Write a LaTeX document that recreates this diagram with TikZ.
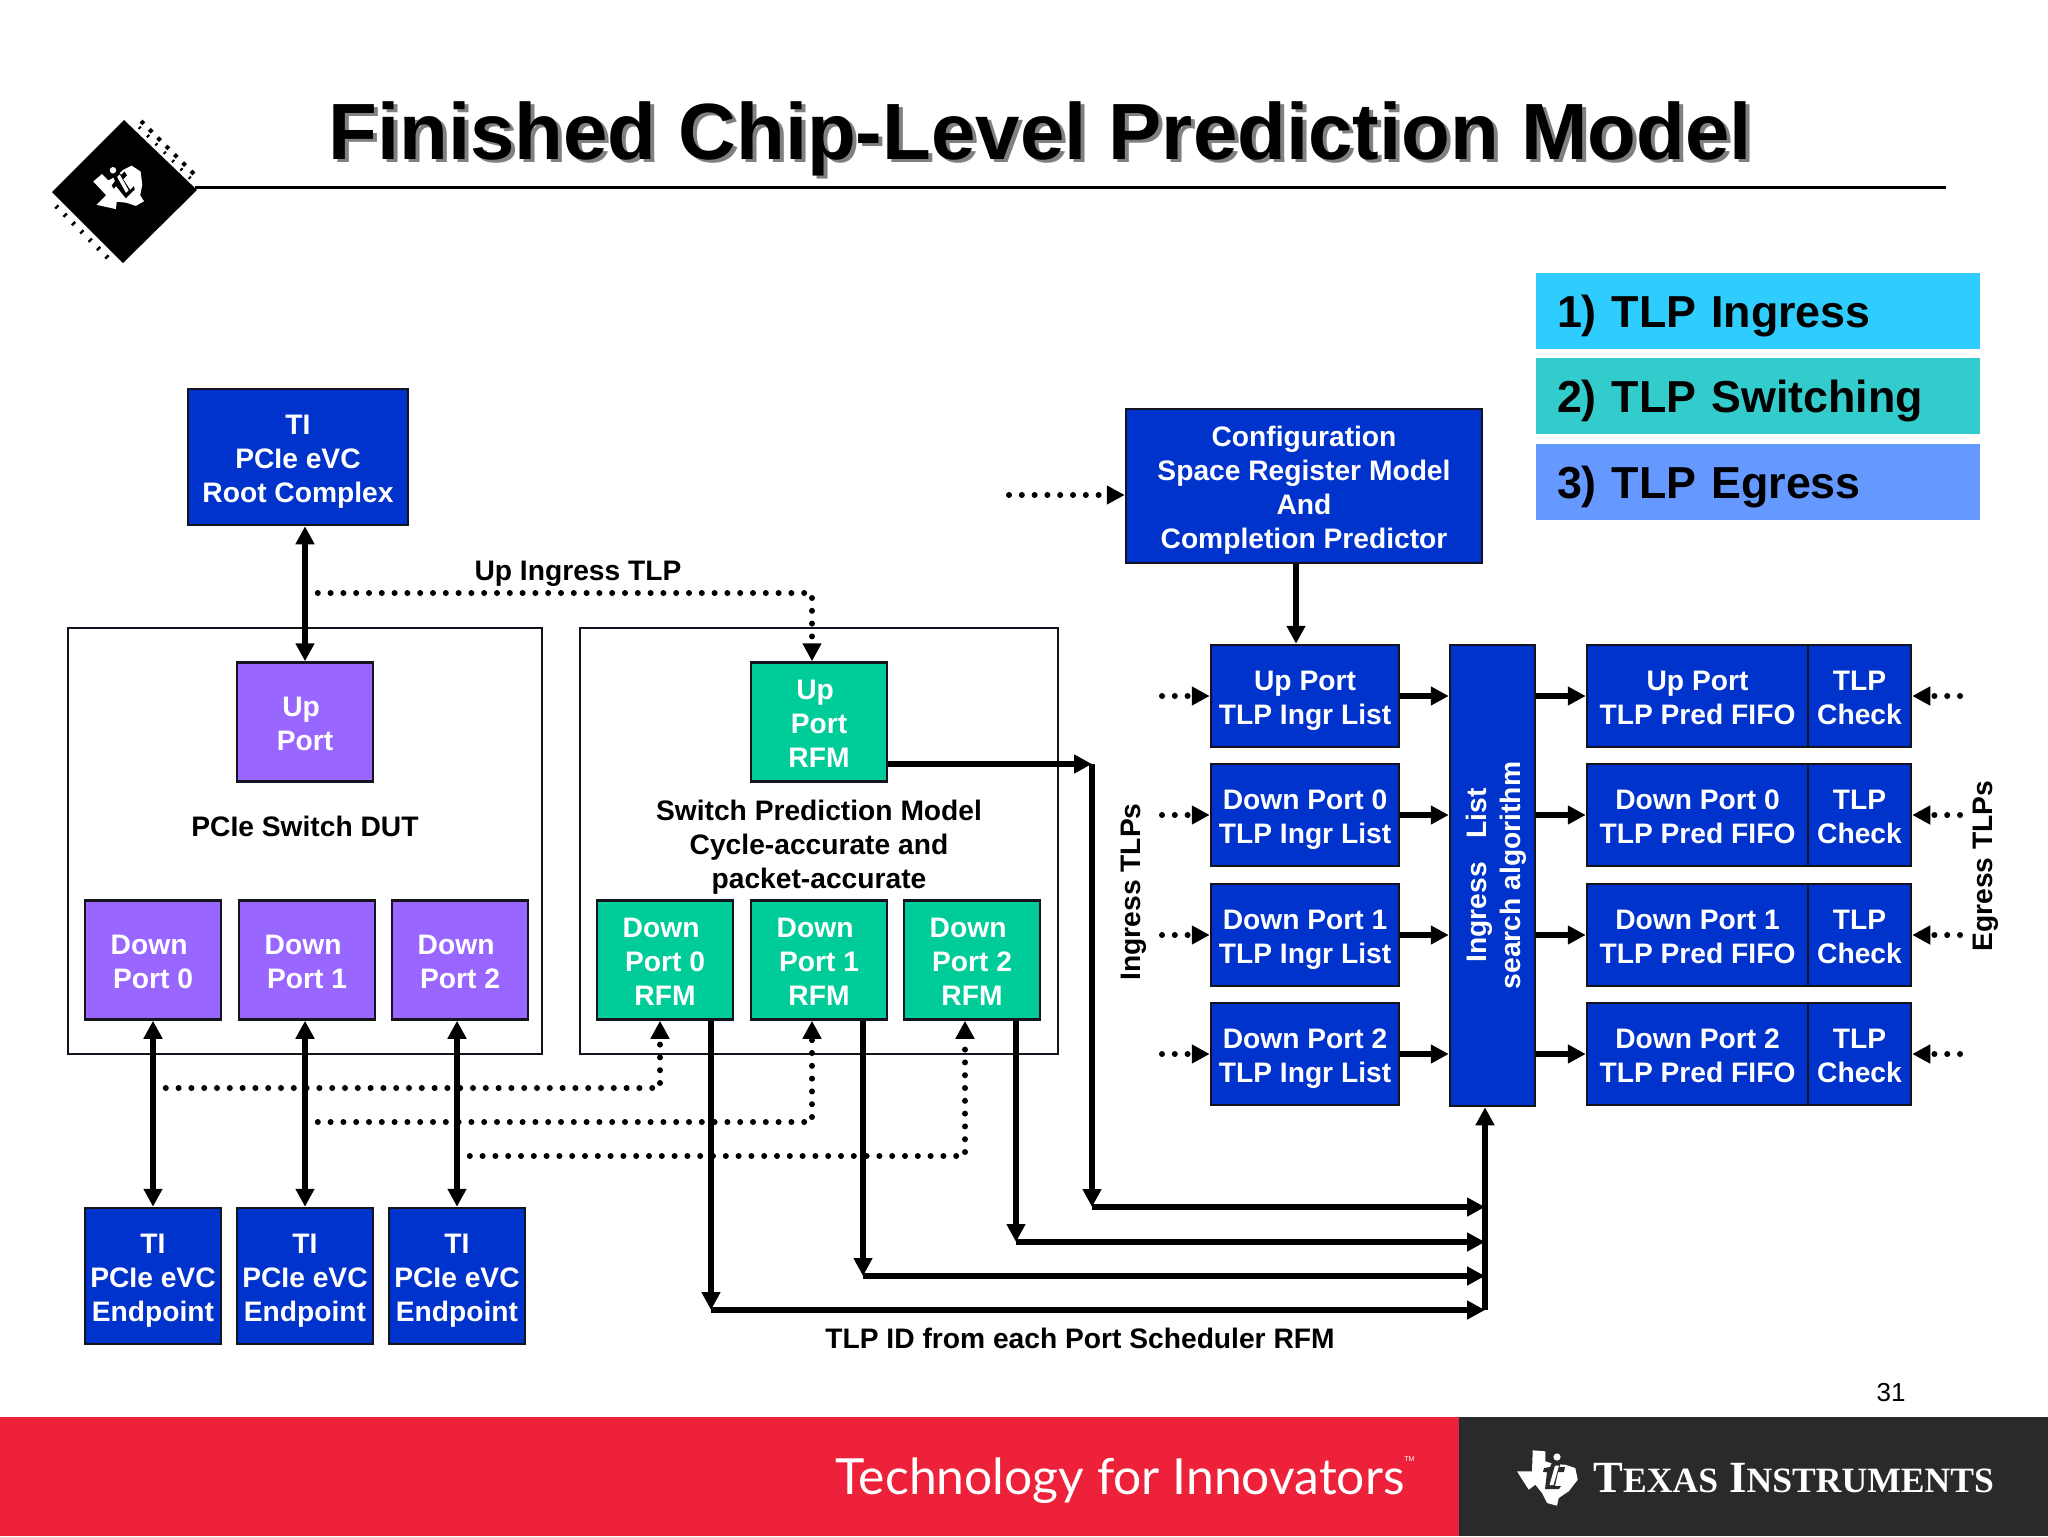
\documentclass[tikz,border=0pt]{standalone}
\usepackage{fontspec}
\setmainfont{Liberation Sans}
\newfontfamily\footfont{Lato}
\newfontfamily\brandfont{Liberation Serif}
\usepackage{tikz}
\usetikzlibrary{arrows.meta}
\definecolor{boxblue}{HTML}{0033CC}
\definecolor{boxpurple}{HTML}{9966FF}
\definecolor{boxgreen}{HTML}{00CC99}
\definecolor{edgedark}{HTML}{14141E}
\definecolor{bandred}{HTML}{ED2139}
\definecolor{banddark}{HTML}{2A2A2C}
\tikzset{
  cellbox/.style={rectangle,draw=edgedark,line width=1.25pt,inner sep=0pt,align=center,
    text=white,font=\fontsize{14.1}{17}\selectfont\bfseries,
    execute at end node={\rule[-4pt]{0pt}{1pt}}},
  solidlink/.style={line width=2.6pt,-{Triangle[length=9pt,width=9pt]}},
  bothlink/.style={line width=2.6pt,{Triangle[length=9pt,width=9pt]}-{Triangle[length=9pt,width=9pt]}},
  dotlink/.style={line width=3pt,line cap=round,dash pattern=on 0pt off 6.4pt,-{Triangle[length=9pt,width=9pt]}},
  thinlabel/.style={align=center,inner sep=0pt,font=\fontsize{14.1}{17}\selectfont\bfseries},
  legendbox/.style={rectangle,inner sep=0pt,minimum width=222pt,minimum height=38pt,
    text width=201pt,align=left,font=\fontsize{22.4}{26}\selectfont\bfseries,
    execute at begin node={\rule{0pt}{21pt}}},
}
\newcommand{\bluenode}[2]{\node[cellbox,fill=boxblue,minimum width=#1,minimum height=#2]}
\newcommand{\purplenode}{\node[cellbox,fill=boxpurple,minimum width=68pt,minimum height=59.5pt]}
\newcommand{\greennode}{\node[cellbox,fill=boxgreen,minimum width=68pt,minimum height=59.5pt]}
\newcommand{\textnode}{\node[thinlabel]}
\newcommand{\trail}{\kern3.9pt}
\newcommand{\topl}{\rule{0pt}{15.2pt}}
% texas outline with ti on it: x, y, unit, rotation, ti colour
\newcommand{\texaslogo}[5]{%
  \begin{scope}[shift={(#1,#2)},x=#3,y=-#3,rotate=#4]
    \fill[white] (-14.3,-27.7) -- (-1.7,-26.7) -- (-1.7,-16.7) -- (6.7,-14) -- (18.3,-13.3) -- (28.3,-10)
      -- (30.7,1.7) -- (21.7,13.3) -- (11.7,20) -- (10,27.7) -- (0,25) -- (-5,15) -- (-11.7,6.7)
      -- (-18.3,11.7) -- (-30,-6.7) -- (-15,-6.7) -- cycle;
    \fill[#5] (5.5,-16.5) -- (14,-16.5) -- (12.5,-11) -- (18,-11) -- (17,-6) -- (11,-6) -- (8,8) -- (14,8)
      -- (12,11) -- (-2,11) -- (0,-6) -- (-4,-6) -- (-3,-10) -- (3,-11) -- cycle;
    \fill[white] (8,-12.5) -- (12,-12.5) -- (6.5,7) -- (2.5,7) -- cycle;
    \fill[white] (10,-21) circle (3.6);
  \end{scope}}
\begin{document}
\begin{tikzpicture}[x=0.5pt,y=-0.5pt]
      \useasboundingbox (0,0) rectangle (2048,1536);
      % footer band
      \fill[bandred] (0,1417) rectangle (1459,1536);
      \fill[banddark] (1459,1417) rectangle (2048,1536);
      \node[inner sep=0pt,text=white,font=\footfont\fontsize{24.9}{26}\selectfont] (tagline) at (1120,1481) {Technology for Innovators};
      \node[inner sep=0pt,text=white,font=\fontsize{3.5}{4}\selectfont,anchor=south west] (tmark) at (1404,1462) {TM};
      \node[inner sep=0pt,text=white,font=\brandfont\bfseries\fontsize{22.3}{26}\selectfont,anchor=west] (brand) at (1593,1478)
        {T{\fontsize{17.8}{20}\selectfont EXAS} I{\fontsize{17.8}{20}\selectfont NSTRUMENTS}};
      \texaslogo{1547}{1478}{0.5pt}{0}{banddark}
      \node[inner sep=0pt,font=\fontsize{13}{15}\selectfont] (pagenum) at (1891,1393) {31};
      % title
      \node[inner sep=0pt,text=black!50,font=\fontsize{39.9}{44}\selectfont\bfseries] (titleshadow) at (1044,142) {Finished Chip-Level Prediction Model};
      \node[inner sep=0pt,font=\fontsize{39.9}{44}\selectfont\bfseries] (title) at (1040,139) {Finished Chip-Level Prediction Model};
      \coordinate (rulestart) at (195,187);
      \coordinate (ruleend) at (1946,187);
      \draw[line width=1.5pt] (rulestart) -- (ruleend);
      % chip
      \fill (52,192) -- (124,120) -- (197,190) -- (123,263) -- cycle;
      \draw[line width=1.6pt,dash pattern=on 1pt off 4.9pt] (139,127) -- (197,185);
      \draw[line width=2pt,dash pattern=on 2pt off 3.9pt] (141,121) -- (199,179);
      \draw[line width=2.4pt,dash pattern=on 1.2pt off 4.7pt] (56,206) -- (114,264);
      \texaslogo{120}{190}{0.45pt}{45}{black}
      % legend
      \node[legendbox,fill={rgb,255:red,47;green,205;blue,253}] (step1) at (1758,311) {1) TLP Ingress};
      \node[legendbox,fill={rgb,255:red,51;green,204;blue,204}] (step2) at (1758,396) {2) TLP Switching};
      \node[legendbox,fill={rgb,255:red,102;green,153;blue,255}] (step3) at (1758,482) {3) TLP Egress};
      % left and right enclosures
      \node[rectangle,draw=edgedark,line width=1pt,minimum width=237pt,minimum height=213pt] (dut) at (305,841) {};
      \node[rectangle,draw=edgedark,line width=1pt,minimum width=239pt,minimum height=213pt] (model) at (819,841) {};
      % root and endpoints
      \bluenode{110pt}{68pt} (root) at (298,457) {\topl TI\\PCIe eVC\\Root Complex};
      \bluenode{68pt}{68pt} (ep0) at (153,1276) {\topl TI\\PCIe eVC\\Endpoint};
      \bluenode{68pt}{68pt} (ep1) at (305,1276) {\topl TI\\PCIe eVC\\Endpoint};
      \bluenode{68pt}{68pt} (ep2) at (457,1276) {\topl TI\\PCIe eVC\\Endpoint};
      % DUT ports
      \purplenode (upp) at (305,722) {\topl Up\trail\\Port};
      \purplenode (dnp0) at (153,960) {\topl Down\trail\\Port 0};
      \purplenode (dnp1) at (307,960) {\topl Down\trail\\Port 1};
      \purplenode (dnp2) at (460,960) {\topl Down\trail\\Port 2};
      \textnode (dutlabel) at (305,826) {PCIe Switch DUT};
      % RFMs
      \greennode (uprfm) at (819,722) {\topl Up\trail\\Port\\RFM};
      \greennode (dnrfm0) at (665,960) {\topl Down\trail\\Port 0\\RFM};
      \greennode (dnrfm1) at (819,960) {\topl Down\trail\\Port 1\\RFM};
      \greennode (dnrfm2) at (972,960) {\topl Down\trail\\Port 2\\RFM};
      \textnode (modellabel) at (819,847) {Switch Prediction Model\\Cycle-accurate and\\packet-accurate};
      % config
      \bluenode{178pt}{77pt} (config) at (1304,486) {\topl Configuration\\Space Register Model\\And\\Completion Predictor};
      % ingress lists
      \bluenode{94pt}{51pt} (ingr0) at (1305,696) {\topl Up Port\\TLP Ingr List};
      \bluenode{94pt}{51pt} (ingr1) at (1305,815) {\topl Down Port 0\\TLP Ingr List};
      \bluenode{94pt}{51pt} (ingr2) at (1305,935) {\topl Down Port 1\\TLP Ingr List};
      \bluenode{94pt}{51pt} (ingr3) at (1305,1054) {\topl Down Port 2\\TLP Ingr List};
      % search
      \node[rectangle,draw=edgedark,line width=1.25pt,fill=boxblue,minimum width=42.5pt,minimum height=230.5pt] (search) at (1492.5,875.5) {};
      \node[rotate=90,align=center,inner sep=0pt,text=white,font=\fontsize{14.1}{17}\selectfont\bfseries] (searchtext) at ([xshift=2pt]search.center) {Ingress~~~List\\search algorithm};
      % pred fifos and checks
      \bluenode{110.5pt}{51pt} (fifo0) at (1697.5,696) {\topl Up Port\\TLP Pred FIFO};
      \bluenode{110.5pt}{51pt} (fifo1) at (1697.5,815) {\topl Down Port 0\\TLP Pred FIFO};
      \bluenode{110.5pt}{51pt} (fifo2) at (1697.5,935) {\topl Down Port 1\\TLP Pred FIFO};
      \bluenode{110.5pt}{51pt} (fifo3) at (1697.5,1054) {\topl Down Port 2\\TLP Pred FIFO};
      \bluenode{51.5pt}{51pt} (chk0) at (1859.5,696) {\topl TLP\\Check};
      \bluenode{51.5pt}{51pt} (chk1) at (1859.5,815) {\topl TLP\\Check};
      \bluenode{51.5pt}{51pt} (chk2) at (1859.5,935) {\topl TLP\\Check};
      \bluenode{51.5pt}{51pt} (chk3) at (1859.5,1054) {\topl TLP\\Check};
      % side labels
      \node[thinlabel,rotate=90] (ingresslabel) at (1134,892) {Ingress TLPs};
      \node[thinlabel,rotate=90] (egresslabel) at (1986,866) {Egress TLPs};
      \textnode (uplabel) at (578,574) {Up Ingress TLP};
      \textnode (idlabel) at (1080,1338) {TLP ID from each Port Scheduler RFM};
      % free ends
      \coordinate (cfgin) at (1009,495);
      \coordinate (in0) at (1162,696);
      \coordinate (in1) at (1162,815);
      \coordinate (in2) at (1162,935);
      \coordinate (in3) at (1162,1054);
      \coordinate (out0) at (1960,696);
      \coordinate (out1) at (1960,815);
      \coordinate (out2) at (1960,935);
      \coordinate (out3) at (1960,1054);
      \coordinate (uptap) at (305,593);
      \coordinate (tap0) at (153,1088);
      \coordinate (tap1) at (305,1122);
      \coordinate (tap2) at (457,1156);
      \coordinate (upturn) at (1092,764);
      \coordinate (bus0) at (1092,1207);
      \coordinate (bus1) at (1016,1242);
      \coordinate (bus2) at (863,1276);
      \coordinate (bus3) at (711,1310);
      \coordinate (join0) at (1485,1207);
      \coordinate (join1) at (1485,1242);
      \coordinate (join2) at (1485,1276);
      \coordinate (join3) at (1485,1310);
      % solid links
      \draw[bothlink] (root.south -| upp) -- (upp);
      \draw[bothlink] (dnp0.south -| ep0) -- (ep0);
      \draw[bothlink] (dnp1.south -| ep1) -- (ep1);
      \draw[bothlink] (dnp2.south -| ep2) -- (ep2);
      \draw[solidlink] (config.south -| 1296,0) -- (ingr0.north -| 1296,0);
      \draw[solidlink] (ingr0) -- (search.west |- ingr0);
      \draw[solidlink] (ingr1) -- (search.west |- ingr1);
      \draw[solidlink] (ingr2) -- (search.west |- ingr2);
      \draw[solidlink] (ingr3) -- (search.west |- ingr3);
      \draw[solidlink] (search.east |- fifo0) -- (fifo0);
      \draw[solidlink] (search.east |- fifo1) -- (fifo1);
      \draw[solidlink] (search.east |- fifo2) -- (fifo2);
      \draw[solidlink] (search.east |- fifo3) -- (fifo3);
      \draw[solidlink] (uprfm.south east |- upturn) -- (upturn);
      \draw[solidlink] (upturn) -- (bus0);
      \draw[solidlink] (dnrfm2.south -| bus1) -- (bus1);
      \draw[solidlink] (dnrfm1.south -| bus2) -- (bus2);
      \draw[solidlink] (dnrfm0.south -| bus3) -- (bus3);
      \draw[solidlink] (bus0) -- (join0);
      \draw[solidlink] (bus1) -- (join1);
      \draw[solidlink] (bus2) -- (join2);
      \draw[solidlink] (bus3) -- (join3);
      \draw[solidlink] (join3) -- (search.south -| join3);
      % dotted links
      \draw[dotlink] (cfgin) -- (config.west |- cfgin);
      \draw[dotlink] (uptap) -- (812,593) -- (uprfm.north -| 812,0);
      \draw[dotlink] (tap0) -- (660,1088) -- (dnrfm0.south -| 660,0);
      \draw[dotlink] (tap1) -- (812,1122) -- (dnrfm1.south -| 812,0);
      \draw[dotlink] (tap2) -- (965,1156) -- (dnrfm2.south -| 965,0);
      \draw[dotlink] (in0) -- (ingr0);
      \draw[dotlink] (in1) -- (ingr1);
      \draw[dotlink] (in2) -- (ingr2);
      \draw[dotlink] (in3) -- (ingr3);
      \draw[dotlink] (out0) -- (chk0);
      \draw[dotlink] (out1) -- (chk1);
      \draw[dotlink] (out2) -- (chk2);
      \draw[dotlink] (out3) -- (chk3);
    \end{tikzpicture}
\end{document}
